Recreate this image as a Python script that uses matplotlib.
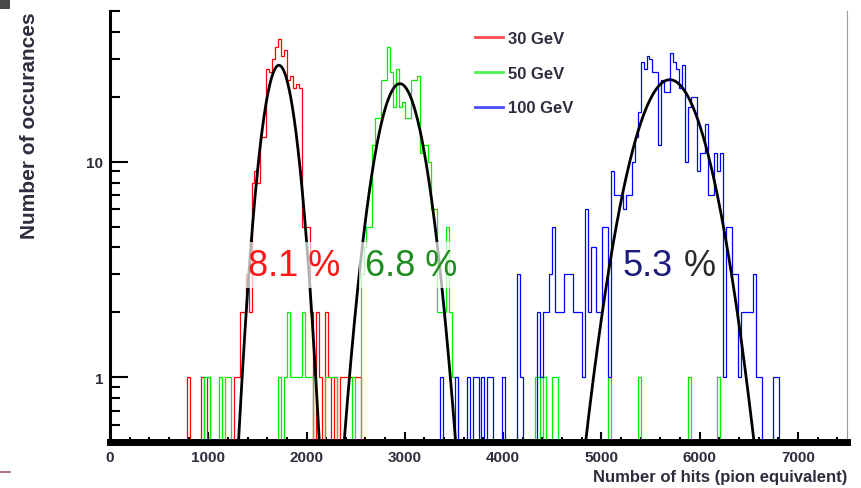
import numpy as np
import matplotlib
matplotlib.use("Agg")
import matplotlib.pyplot as plt
from matplotlib.lines import Line2D
from matplotlib.patches import Rectangle
from matplotlib.ticker import MultipleLocator, LogLocator, NullFormatter

plt.rcParams['font.family'] = ['Liberation Sans', 'DejaVu Sans']

# binning of the hit histograms
bin_width = 30
x_max = 7500

# 30 GeV: dense part of the peak + isolated single bins
red_start = 1290
red_core = [1, 2, 2, 3, 2, 8, 9, 8, 13, 13, 27, 26, 30, 34, 37, 31, 33, 24, 25, 22,
            23, 22, 5, 5, 5, 2, 0, 2, 1, 0, 2]
red_tail_x = [780, 930, 990, 1260, 2220, 2280, 2340, 2370, 2400, 2430, 2460, 2490, 2520]
red_tail_n = [1, 1, 1, 1, 1, 1, 1, 1, 1, 1, 1, 1, 1]

# 50 GeV
green_start = 2550
green_core = [3, 4, 5, 5, 12, 16, 16, 24, 24, 34, 26, 18, 27, 18, 19, 16, 16, 24, 24, 25,
              11, 12, 12, 10, 6, 6, 2, 2, 2, 5, 2, 1, 1]
green_tail_x = [960, 990, 1110, 1170, 1200, 1710, 1770, 1800, 1830, 1860, 1890, 1920,
                1950, 1980, 2010, 2040, 2190, 2220, 2250, 2280, 2460,
                4320, 4350, 4410, 4500, 4530, 5070, 5370, 5880, 6180]
green_tail_n = [1, 1, 1, 1, 1, 1, 1, 2, 1, 1, 1, 1,
                2, 1, 1, 1, 1, 1, 1, 1, 1,
                1, 1, 1, 1, 1, 1, 1, 1, 1]

# 100 GeV
blue_start = 4140
blue_core = [3, 1, 0, 0, 0, 0, 0, 2, 1, 2,
             2, 3, 5, 2, 2, 2, 3, 3, 3, 2,
             2, 2, 1, 6, 2, 4, 4, 2, 2, 5,
             5, 1, 9, 7, 7, 7, 6, 7, 7, 10,
             13, 17, 29, 27, 31, 30, 26, 26, 12, 24,
             21, 21, 32, 29, 27, 22, 28, 10, 18, 20,
             20, 9, 11, 11, 15, 7, 7, 11, 9, 11,
             1, 5, 5, 3, 3, 1, 2, 2, 2, 2,
             3, 1, 1, 0, 0, 0, 0, 1, 1]
blue_tail_x = [3360, 3510, 3630, 3690, 3720, 3780, 3840, 3870, 3990]
blue_tail_n = [1, 1, 1, 1, 1, 1, 1, 1, 1]

# gaussian fits
fit_amp = [28, 23, 24]
fit_mean = [1719, 2950, 5697]
fit_sigma = [145, 205, 308]

labels = ['30 GeV', '50 GeV', '100 GeV']
colors = ['#ff0000', '#00ee00', '#0000ff']
res_text = ['8.1', '6.8', '5.3']
res_colors = ['#ff1515', '#1e8c1e', '#1c1c7c']
res_x = [1400, 2590, 5215]

edges = np.arange(0, x_max + bin_width, bin_width)


def fill(start, core, tail_x, tail_n):
    h = np.zeros(len(edges) - 1)
    i0 = start // bin_width
    h[i0:i0 + len(core)] += core
    for x, n in zip(tail_x, tail_n):
        h[x // bin_width] += n
    return h


hists = [fill(red_start, red_core, red_tail_x, red_tail_n),
         fill(green_start, green_core, green_tail_x, green_tail_n),
         fill(blue_start, blue_core, blue_tail_x, blue_tail_n)]

fig = plt.figure(figsize=(8.62, 4.89), dpi=100)
ax = fig.add_axes([110/862, 46/489, 737/862, 431/489])
ax.set_yscale('log', nonpositive='clip')

for h, c in zip(hists, colors):
    ax.stairs(h, edges, color=c, lw=0.9, zorder=2)

for a, m, s in zip(fit_amp, fit_mean, fit_sigma):
    xs = np.linspace(m - 3*s, m + 3*s, 400)
    ax.plot(xs, a*np.exp(-0.5*((xs - m)/s)**2), color='black', lw=2.0, zorder=3)

ax.set_xlim(0, x_max)
ax.set_ylim(0.5, 50)

# resolution labels with half transparent white boxes
fs = 26
box = dict(boxstyle='square,pad=0.15', fc='white', ec='none', alpha=0.7)
for i in range(2):
    ax.text(res_x[i], 3.3, res_text[i] + ' %', color=res_colors[i], fontsize=fs,
            ha='left', va='center', zorder=5, bbox=box)
# last one: number in navy, percent sign in dark grey
t = ax.text(res_x[2], 3.3, res_text[2], color=res_colors[2], fontsize=fs,
            ha='left', va='center', zorder=5, bbox=box)
ax.annotate('%', xy=(1, 0.5), xycoords=t, xytext=(2*0.15*fs, 0),
            textcoords='offset points', ha='left', va='center',
            fontsize=fs, color='#2a2a2a', zorder=5, bbox=box)

tick_col = '#2d2d3d'
ax.set_xticks(range(0, 8000, 1000), [str(v) for v in range(0, 8000, 1000)],
              fontweight='bold', fontsize=11, color=tick_col)
ax.xaxis.set_minor_locator(MultipleLocator(200))
ax.set_yticks([1, 10], ['1', '10'], fontweight='bold', fontsize=11, color=tick_col)
ax.yaxis.set_minor_locator(LogLocator(subs=np.arange(2, 10)))
ax.yaxis.set_minor_formatter(NullFormatter())
ax.tick_params(axis='x', which='major', direction='in', length=7, width=1.5, pad=6)
ax.tick_params(axis='x', which='minor', direction='in', length=3.6, width=1.5)
ax.tick_params(axis='y', which='major', direction='in', length=13, width=1.5, pad=5)
ax.tick_params(axis='y', which='minor', direction='in', length=7, width=1.5)

ax.spines['top'].set_visible(False)
ax.spines['right'].set_color('#9a9a9a')
ax.spines['right'].set_linewidth(0.8)
ax.spines['left'].set_linewidth(2.2)
ax.spines['bottom'].set_linewidth(5)

handles = [Line2D([], [], color=c, lw=2, alpha=0.7) for c in colors]
ax.legend(handles, labels, loc='upper left', bbox_to_anchor=(475/862, 1 - 32/489),
          bbox_transform=fig.transFigure, frameon=False,
          prop=dict(weight='bold', size=12), labelcolor=tick_col,
          handlelength=1.7, handletextpad=0.3, labelspacing=1.18,
          borderpad=0, borderaxespad=0)

fig.text(30/862, 1 - 12/489, 'Number of occurances', rotation=90, ha='center',
         va='top', fontsize=15, fontweight='bold', color=tick_col)
fig.text(847/862, 1 - 478/489, 'Number of hits (pion equivalent)', ha='right',
         va='center', fontsize=12, fontweight='bold', color=tick_col)

# bits of the surrounding slide
fig.add_artist(Rectangle((0, 1 - 10/489), 10/862, 10/489, transform=fig.transFigure,
                         color='#4a4a4a', lw=0))
fig.add_artist(Line2D([0, 10/862], [1 - 473/489, 1 - 473/489], transform=fig.transFigure,
                      color='#9a5a78', lw=1.2))

fig.savefig('out.png', dpi=100)
